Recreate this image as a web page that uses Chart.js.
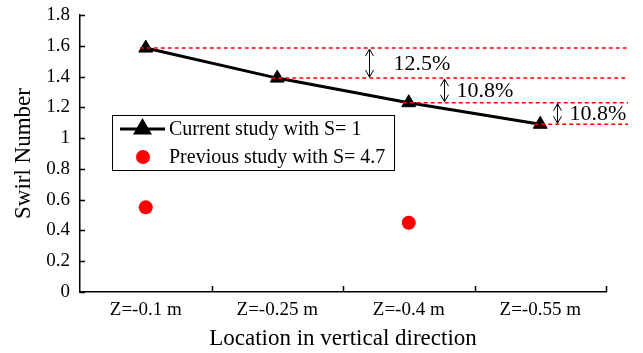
<!DOCTYPE html>
<html>
<head>
<meta charset="utf-8">
<script src="https://cdn.jsdelivr.net/npm/chart.js@4.4.1/dist/chart.umd.min.js"></script>
<style>
  html, body { margin: 0; padding: 0; background: #fff; }
  canvas { display: block; }
</style>
</head>
<body>
<canvas id="swirl-chart" width="643" height="353"></canvas>
<script>
// data
const locations = ['Z=-0.1 m', 'Z=-0.25 m', 'Z=-0.4 m', 'Z=-0.55 m'];
const currentStudy = [1.585, 1.39, 1.23, 1.09];
const previousStudy = [0.55, null, 0.45, null];
const dropLabels = ['12.5%', '10.8%', '10.8%'];
const yTicks = [0, 0.2, 0.4, 0.6, 0.8, 1, 1.2, 1.4, 1.6, 1.8];

const serif = "'Liberation Serif', 'Times New Roman', serif";

// draws inner tick marks, red reference lines, the % arrows and the boxed legend
const decorations = {
  id: 'decorations',
  afterDatasetsDraw(chart, args, opts) {
    const { ctx, chartArea } = chart;
    const xs = chart.scales.x;
    const ys = chart.scales.y;
    ctx.save();

    // inward tick marks
    ctx.strokeStyle = '#000';
    ctx.lineWidth = 1.5;
    ctx.beginPath();
    yTicks.forEach(v => {
      const y = Math.round(ys.getPixelForValue(v)) + 0.5;
      ctx.moveTo(chartArea.left, y);
      ctx.lineTo(chartArea.left + 5, y);
    });
    for (let i = 1; i <= locations.length; i++) {
      const x = Math.round(xs.getPixelForValue(i - 0.5)) + 0.5;
      ctx.moveTo(x, chartArea.bottom);
      ctx.lineTo(x, chartArea.bottom - 6);
    }
    ctx.stroke();

    // red dashed reference lines from each point out to the right
    ctx.strokeStyle = '#ff0000';
    ctx.lineWidth = 1.5;
    ctx.setLineDash([4, 3]);
    currentStudy.forEach((v, i) => {
      const y = ys.getPixelForValue(v);
      ctx.beginPath();
      ctx.moveTo(xs.getPixelForValue(i) - 6, y);
      ctx.lineTo(opts.lineEnd, y);
      ctx.stroke();
    });
    ctx.setLineDash([]);

    // double arrows with percentages
    ctx.strokeStyle = '#000';
    ctx.fillStyle = '#000';
    ctx.lineWidth = 1;
    ctx.font = '22px ' + serif;
    ctx.textAlign = 'left';
    ctx.textBaseline = 'middle';
    dropLabels.forEach((txt, i) => {
      const x = Math.round(xs.getPixelForValue(opts.arrowAt[i])) + 0.5;
      const y1 = ys.getPixelForValue(currentStudy[i]) + 1;
      const y2 = ys.getPixelForValue(currentStudy[i + 1]) - 1;
      ctx.beginPath();
      ctx.moveTo(x, y1);
      ctx.lineTo(x, y2);
      ctx.moveTo(x - 4, y1 + 7);
      ctx.lineTo(x, y1);
      ctx.lineTo(x + 4, y1 + 7);
      ctx.moveTo(x - 4, y2 - 7);
      ctx.lineTo(x, y2);
      ctx.lineTo(x + 4, y2 - 7);
      ctx.stroke();
      ctx.fillText(txt, x + opts.textGap[i], (y1 + y2) / 2 + 1);
    });

    // legend box
    const lg = opts.legend;
    ctx.fillStyle = '#fff';
    ctx.fillRect(lg.left, lg.top, lg.width, lg.height);
    ctx.strokeStyle = '#000';
    ctx.lineWidth = 1;
    ctx.strokeRect(lg.left + 0.5, lg.top + 0.5, lg.width, lg.height);

    const row1 = lg.top + 14;
    const row2 = lg.top + 42;
    ctx.lineWidth = 3;
    ctx.beginPath();
    ctx.moveTo(lg.left + 8, row1);
    ctx.lineTo(lg.left + 53, row1);
    ctx.stroke();
    Chart.helpers.drawPoint(ctx, { pointStyle: 'triangle', radius: 8, borderWidth: 1 }, lg.left + 30.5, row1);
    ctx.fillStyle = '#000';
    ctx.fill();

    ctx.fillStyle = '#ff0000';
    ctx.beginPath();
    ctx.arc(lg.left + 31, row2, 7, 0, Math.PI * 2);
    ctx.fill();

    ctx.fillStyle = '#000';
    ctx.font = '20px ' + serif;
    ctx.fillText(chart.data.datasets[0].label, lg.left + 57, row1 + 1);
    ctx.fillText(chart.data.datasets[1].label, lg.left + 57, row2 + 1);

    ctx.restore();
  }
};

new Chart(document.getElementById('swirl-chart'), {
  type: 'line',
  data: {
    labels: locations,
    datasets: [{
      label: 'Current study with S= 1',
      data: currentStudy,
      borderColor: '#000',
      backgroundColor: '#000',
      borderWidth: 3,
      pointStyle: 'triangle',
      pointRadius: 8,
      pointBorderWidth: 1,
      tension: 0
    }, {
      label: 'Previous study with S= 4.7',
      data: previousStudy,
      showLine: false,
      pointStyle: 'circle',
      pointRadius: 7,
      pointBorderWidth: 0,
      backgroundColor: '#ff0000',
      borderColor: '#ff0000'
    }]
  },
  options: {
    responsive: false,
    animation: false,
    devicePixelRatio: 1,
    layout: { padding: { top: 15, right: 37, left: 0, bottom: 0 } },
    plugins: {
      legend: { display: false },
      tooltip: { enabled: false },
      decorations: {
        lineEnd: 628,
        arrowAt: [1.7, 2.27, 3.13],
        textGap: [24, 12, 12],
        legend: { left: 112, top: 115, width: 282, height: 55 }
      }
    },
    scales: {
      x: {
        offset: true,
        afterFit: s => { s.height = 61; },
        grid: { display: true, drawOnChartArea: false, drawTicks: false, offset: true, color: 'rgba(0,0,0,0)' },
        border: { display: true, color: '#000', width: 1.5 },
        ticks: {
          color: '#000',
          font: { family: serif, size: 19 },
          padding: 7,
          maxRotation: 0,
          autoSkip: false
        },
        title: {
          display: true,
          text: 'Location in vertical direction',
          color: '#000',
          font: { family: serif, size: 23 },
          padding: { top: 0, bottom: 0 }
        }
      },
      y: {
        min: 0,
        max: 1.8,
        afterFit: s => { s.width = 80; s.paddingTop = 0; s.paddingBottom = 0; },
        afterBuildTicks: s => { s.ticks = yTicks.map(v => ({ value: v })); },
        grid: { display: true, drawOnChartArea: false, drawTicks: false, color: 'rgba(0,0,0,0)' },
        border: { display: true, color: '#000', width: 1.5 },
        ticks: {
          color: '#000',
          font: { family: serif, size: 19 },
          padding: 10,
          callback: v => String(+v.toFixed(1))
        },
        title: {
          display: true,
          text: 'Swirl Number',
          color: '#000',
          font: { family: serif, size: 23 },
          padding: { top: 10, bottom: 10 }
        }
      }
    }
  },
  plugins: [decorations]
});
</script>
</body>
</html>
